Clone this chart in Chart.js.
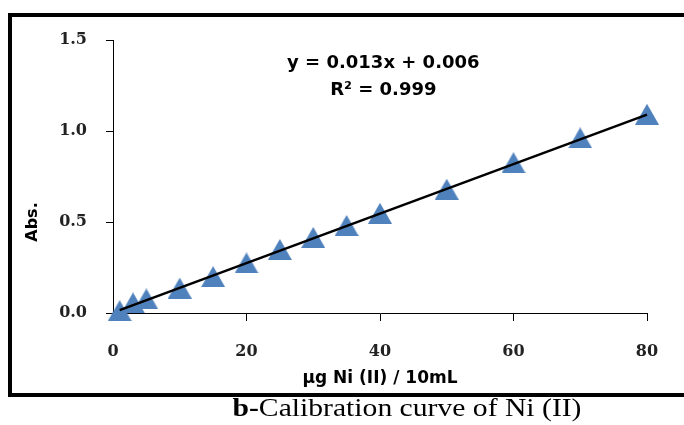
<!DOCTYPE html>
<html>
<head>
<meta charset="utf-8">
<script src="https://cdn.jsdelivr.net/npm/chart.js@4.4.1/dist/chart.umd.min.js"></script>
<style>
  html, body { margin: 0; padding: 0; background: #fff; }
  body { width: 684px; height: 425px; position: relative; overflow: hidden; }
  #frame { position: absolute; left: 8px; top: 13px; width: 700px; height: 376px; border: 4px solid #000; }
  #wrap { position: absolute; left: 0; top: 0; width: 684px; height: 425px; }
  #caption {
    position: absolute; left: 407px; top: 395px; white-space: nowrap;
    font-family: "Liberation Serif", "Times New Roman", serif; font-size: 26px; line-height: 26px;
    transform: translateX(-50%) scaleX(1.14); color: #000;
  }
</style>
</head>
<body>
<div id="frame"></div>
<div id="wrap"><canvas id="myChart" width="684" height="425"></canvas></div>
<div id="caption"><b>b-</b>Calibration curve of Ni (II)</div>
<script>
// measured points (µg Ni per 10 mL vs absorbance)
const concX = [1, 3, 5, 10, 15, 20, 25, 30, 35, 40, 50, 60, 70, 80];
const absY = [0.013, 0.055, 0.077, 0.137, 0.200, 0.275, 0.349, 0.415, 0.481, 0.548, 0.680, 0.826, 0.962, 1.092];

// linear trendline ends
const fitX = [1, 80];
const fitY = [0.016, 1.090];

const xTicks = [0, 20, 40, 60, 80];
const yTicks = [0.0, 0.5, 1.0, 1.5];
const equationLines = ['y = 0.013x + 0.006', 'R\u00b2 = 0.999'];
const yTitle = 'Abs.';

// Excel-like triangle marker, centred on its bounding box
function makeTriangle(w, h, color) {
  const c = document.createElement('canvas');
  c.width = w;
  c.height = h;
  const g = c.getContext('2d');
  g.fillStyle = color;
  g.beginPath();
  g.moveTo(w / 2, 0);
  g.lineTo(w, h);
  g.lineTo(0, h);
  g.closePath();
  g.fill();
  return c;
}

const triangle = makeTriangle(24, 21, '#4F81BD');

// trendline equation + y title (the title sits low, level with 0.5)
const labelsPlugin = {
  id: 'labels',
  afterDraw(chart) {
    const ctx = chart.ctx;
    const cx = chart.scales.x.getPixelForValue(40.5);
    const top = chart.chartArea.top;
    ctx.save();
    ctx.font = 'bold 18px "DejaVu Sans"';
    ctx.fillStyle = '#000';
    ctx.textAlign = 'center';
    ctx.textBaseline = 'alphabetic';
    ctx.fillText(equationLines[0], cx, top + 28);
    ctx.fillText(equationLines[1], cx, top + 55);

    ctx.translate(33, chart.scales.y.getPixelForValue(0.5));
    ctx.rotate(-Math.PI / 2);
    ctx.font = 'bold 16px "DejaVu Sans"';
    ctx.textBaseline = 'middle';
    ctx.fillText(yTitle, 0, 0);
    ctx.restore();
  }
};

const tickFont = { family: 'DejaVu Serif', size: 16, weight: 'bold' };
const titleFont = { family: 'DejaVu Sans', size: 17, weight: 'bold' };

const ctx = document.getElementById('myChart').getContext('2d');
const myChart = new Chart(ctx, {
  type: 'scatter',
  data: {
    datasets: [
      {
        label: 'Linear',
        data: fitX.map((x, i) => ({ x: x, y: fitY[i] })),
        showLine: true,
        borderColor: '#000',
        borderWidth: 2.5,
        pointRadius: 0,
        fill: false,
        clip: false,
        order: 0
      },
      {
        label: 'Abs.',
        data: concX.map((x, i) => ({ x: x, y: absY[i] })),
        pointStyle: triangle,
        pointRadius: 10,
        backgroundColor: '#4F81BD',
        borderColor: '#4F81BD',
        clip: false,
        order: 1
      }
    ]
  },
  options: {
    responsive: false,
    animation: false,
    layout: { padding: { left: 0, top: 40, right: 37, bottom: 0 } },
    plugins: {
      legend: { display: false },
      tooltip: { enabled: false }
    },
    scales: {
      x: {
        type: 'linear',
        min: 0,
        max: 80,
        afterBuildTicks: s => { s.ticks = xTicks.map(v => ({ value: v })); },
        afterFit: s => { s.height = 112; },
        grid: { drawOnChartArea: false, drawTicks: true, tickLength: 8, color: '#000' },
        border: { color: '#000', width: 1 },
        ticks: { font: tickFont, color: '#222', padding: 21, maxRotation: 0 },
        title: { display: true, text: '\u03bcg Ni (II) / 10mL', font: titleFont, color: '#000', padding: { top: 0, bottom: 36 } }
      },
      y: {
        min: 0,
        max: 1.5,
        afterBuildTicks: s => { s.ticks = yTicks.map(v => ({ value: v })); },
        afterFit: s => { s.width = 113; },
        grid: { drawOnChartArea: false, drawTicks: true, tickLength: 7, color: '#000' },
        border: { color: '#000', width: 1 },
        ticks: { font: tickFont, color: '#222', padding: 19, callback: v => v.toFixed(1) }
      }
    }
  },
  plugins: [labelsPlugin]
});
</script>
</body>
</html>
